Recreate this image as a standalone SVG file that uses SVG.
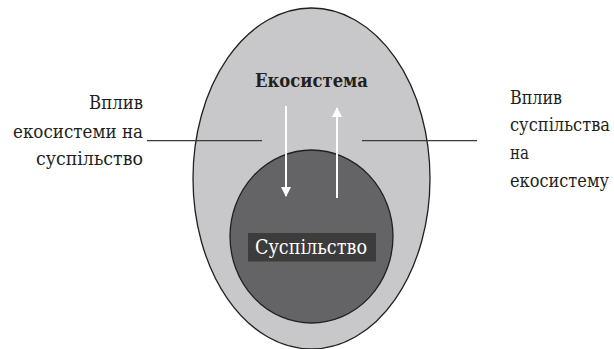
<svg xmlns="http://www.w3.org/2000/svg" width="614" height="349" viewBox="0 0 614 349">
<style>
.lbl{font-family:"DejaVu Serif",serif;font-size:18px;fill:#231f20}
.ttl{font-family:"DejaVu Serif",serif;font-size:19px;font-weight:bold;fill:#231f20}
.soc{font-family:"DejaVu Serif",serif;font-size:20px;fill:#ffffff}
.ln{stroke:#3a3a3a;stroke-width:1.3;fill:none}
.arr{stroke:#ffffff;stroke-width:2;fill:none}
</style>
<defs>
<marker id="ah" viewBox="0 0 10 10" refX="9" refY="5" markerWidth="5" markerHeight="5" orient="auto" markerUnits="strokeWidth">
<path d="M0,0 L10,5 L0,10 z" fill="#ffffff"/>
</marker>
</defs>
<rect width="614" height="349" fill="#ffffff"/>
<g id="ecosystem">
<ellipse cx="311.5" cy="178.5" rx="118.5" ry="170.5" fill="#c8c8ca" stroke="#231f20" stroke-width="1.3"/>
<text class="ttl" x="255" y="87" textLength="113" lengthAdjust="spacingAndGlyphs">Екосистема</text>
</g>
<g id="society">
<ellipse cx="311.5" cy="236.5" rx="81.5" ry="86.5" fill="#646466" stroke="#231f20" stroke-width="1.3"/>
<rect x="248" y="233" width="128" height="28.5" fill="#3c3c3d"/>
<text class="soc" x="255" y="253.5" textLength="112" lengthAdjust="spacingAndGlyphs">Суспільство</text>
</g>
<g id="label-left">
<text class="lbl" x="89" y="109" textLength="54" lengthAdjust="spacingAndGlyphs">Вплив</text>
<text class="lbl" x="13" y="138" textLength="130" lengthAdjust="spacingAndGlyphs">екосистеми на</text>
<text class="lbl" x="36" y="165" textLength="107" lengthAdjust="spacingAndGlyphs">суспільство</text>
</g>
<g id="label-right">
<text class="lbl" x="510" y="104" textLength="52" lengthAdjust="spacingAndGlyphs">Вплив</text>
<text class="lbl" x="510" y="131" textLength="100" lengthAdjust="spacingAndGlyphs">суспільства</text>
<text class="lbl" x="510" y="159" textLength="19" lengthAdjust="spacingAndGlyphs">на</text>
<text class="lbl" x="510" y="187" textLength="99" lengthAdjust="spacingAndGlyphs">екосистему</text>
</g>
<g id="connectors">
<line class="ln" x1="147" y1="140.7" x2="262" y2="140.7"/>
<line class="ln" x1="362" y1="140.7" x2="477" y2="140.7"/>
<line class="arr" x1="286" y1="106" x2="286" y2="196" marker-end="url(#ah)"/>
<line class="arr" x1="337" y1="198" x2="337" y2="108" marker-end="url(#ah)"/>
</g>
</svg>
